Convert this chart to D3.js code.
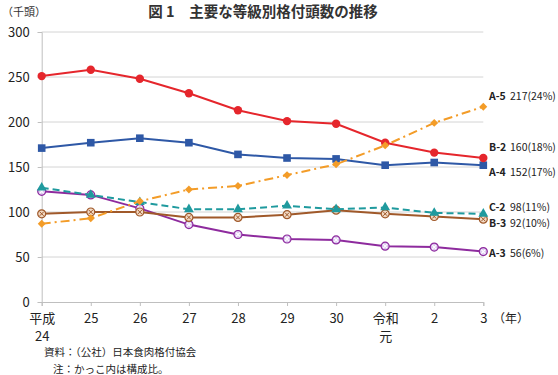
<!DOCTYPE html>
<html><head><meta charset="utf-8">
<script src="https://cdn.jsdelivr.net/npm/d3@7"></script>
<style>
body{margin:0;background:#fff;}
text{font-family:"Noto Sans CJK JP","Noto Sans",sans-serif;}
</style></head>
<body><svg id="c" width="558" height="375"></svg>
<script>
const categories = ["平成\n24","25","26","27","28","29","30","令和\n元","2","3"];
const yTicks = [0,50,100,150,200,250,300];
const seriesNames = ["A-5","B-2","A-4","C-2","B-3","A-3"];
const endLabels = ["217(24%)","160(18%)","152(17%)","98(11%)","92(10%)","56(6%)"];
const A5 = [87, 93, 112, 125, 129, 141, 153, 174, 199, 217];
const B2 = [251, 258, 248, 232, 213, 201, 198, 177, 166, 160];
const A4 = [171, 177, 182, 177, 164, 160, 159, 152, 155, 152];
const C2 = [127, 119, 111, 103, 103, 107, 103, 105, 99, 98];
const B3 = [98, 100, 100, 94, 94, 97, 102, 98, 95, 92];
const A3 = [123, 119, 104, 86, 75, 70, 69, 62, 61, 56];

const styles = {
 "A-5":{c:"#f39c28",dash:"9,4,2,4",m:"diamond",w:2,ly:96},
 "B-2":{c:"#e5262c",dash:null,m:"circle",w:2,ly:147},
 "A-4":{c:"#2e58a6",dash:null,m:"square",w:2,ly:172},
 "C-2":{c:"#1f9a9e",dash:"7,4",m:"triangle",w:2,ly:207},
 "B-3":{c:"#a0592a",dash:null,m:"xcircle",w:2,ly:223},
 "A-3":{c:"#8e2b9e",dash:null,m:"xsquare",w:2,ly:253}
};
const data = {"A-5":A5,"B-2":B2,"A-4":A4,"C-2":C2,"B-3":B3,"A-3":A3};
const drawOrder = ["A-3","B-3","C-2","A-4","B-2","A-5"];

const svg = d3.select("#c");
const x = d3.scalePoint().domain(categories).range([41.7,483.3]);
const y = d3.scaleLinear().domain([0,300]).range([302,32]);

// title
svg.append("text").attr("x",263).attr("y",17).attr("text-anchor","middle")
 .attr("font-size",14.5).attr("font-weight",600).attr("fill","#333")
 .text("図 1　主要な等級別格付頭数の推移");
svg.append("text").attr("x",2).attr("y",16).attr("font-size",11).attr("fill","#333").text("（千頭）");

// grid
svg.append("g").selectAll("line").data(yTicks.filter(d=>d>0)).join("line")
 .attr("x1",41.7).attr("x2",483.3).attr("y1",d=>y(d)).attr("y2",d=>y(d))
 .attr("stroke","#d4d4d4").attr("stroke-width",1);

// y axis
const ya = svg.append("g").attr("transform","translate(41.7,0)")
 .call(d3.axisLeft(y).tickValues(yTicks).tickSize(4).tickPadding(8));
ya.select(".domain").attr("stroke","#bfbfbf");
ya.selectAll(".tick line").attr("stroke","#bfbfbf");
ya.selectAll(".tick text").attr("font-size",13).attr("fill","#222")
 .attr("font-family","'Open Sans','Noto Sans',sans-serif");

// x axis
const xa = svg.append("g").attr("transform","translate(0,302)")
 .call(d3.axisBottom(x).tickSize(4).tickPadding(5).tickFormat(""));
xa.select(".domain").attr("stroke","#bfbfbf");
xa.selectAll(".tick line").attr("stroke","#bfbfbf");
xa.selectAll(".tick").each(function(d){
  const parts = d.split("\n");
  const g = d3.select(this);
  parts.forEach((p,i)=>{
    g.append("text").attr("y",21+i*18).attr("text-anchor","middle")
     .attr("font-size",13).attr("fill","#222").text(p);
  });
});
svg.append("text").attr("x",493).attr("y",323).attr("font-size",12).attr("fill","#222").text("（年）");

// lines
const line = d3.line().x((d,i)=>x(categories[i])).y(d=>y(d));
drawOrder.forEach(name=>{
  const s = styles[name];
  const g = svg.append("g");
  g.append("path").datum(data[name]).attr("d",line).attr("fill","none")
   .attr("stroke",s.c).attr("stroke-width",s.w)
   .attr("stroke-dasharray",s.dash);
  g.selectAll("g.m").data(data[name]).join("g").attr("class","m")
   .attr("transform",(d,i)=>`translate(${x(categories[i])},${y(d)})`)
   .each(function(){
     const m = d3.select(this);
     if(s.m==="circle") m.append("circle").attr("r",4.2).attr("fill",s.c);
     else if(s.m==="square") m.append("rect").attr("x",-3.8).attr("y",-3.8).attr("width",7.6).attr("height",7.6).attr("fill",s.c);
     else if(s.m==="diamond") m.append("path").attr("d",d3.symbol(d3.symbolDiamond2,40)).attr("fill",s.c);
     else if(s.m==="triangle") m.append("path").attr("d",d3.symbol(d3.symbolTriangle,42)).attr("fill",s.c);
     else if(s.m==="xcircle"){
       m.append("circle").attr("r",4).attr("fill","#f1d9c4").attr("stroke",s.c).attr("stroke-width",1.2);
       m.append("path").attr("d","M-2,-2L2,2M-2,2L2,-2").attr("stroke",s.c).attr("stroke-width",1);
     } else {
       m.append("circle").attr("r",4).attr("fill","#dcc8ef").attr("stroke",s.c).attr("stroke-width",1.2);
       m.append("path").attr("d","M-2,-2L2,2M-2,2L2,-2").attr("stroke","#fff").attr("stroke-width",1.2);
     }
   });
});

// end labels
seriesNames.forEach((name,i)=>{
  const s = styles[name];
  const t = svg.append("text").attr("x",489).attr("y",s.ly+4).attr("font-size",10.5)
   .attr("font-family","'Noto Sans',sans-serif").attr("fill","#222");
  t.append("tspan").attr("font-weight",700).text(name);
  t.append("tspan").attr("x",510).text(endLabels[i]);
});

// footer
svg.append("text").attr("x",44).attr("y",356).attr("font-size",10.5).attr("fill","#222").text("資料：（公社）日本食肉格付協会");
svg.append("text").attr("x",53).attr("y",373).attr("font-size",10.5).attr("fill","#222").text("注：かっこ内は構成比。");
</script></body></html>
